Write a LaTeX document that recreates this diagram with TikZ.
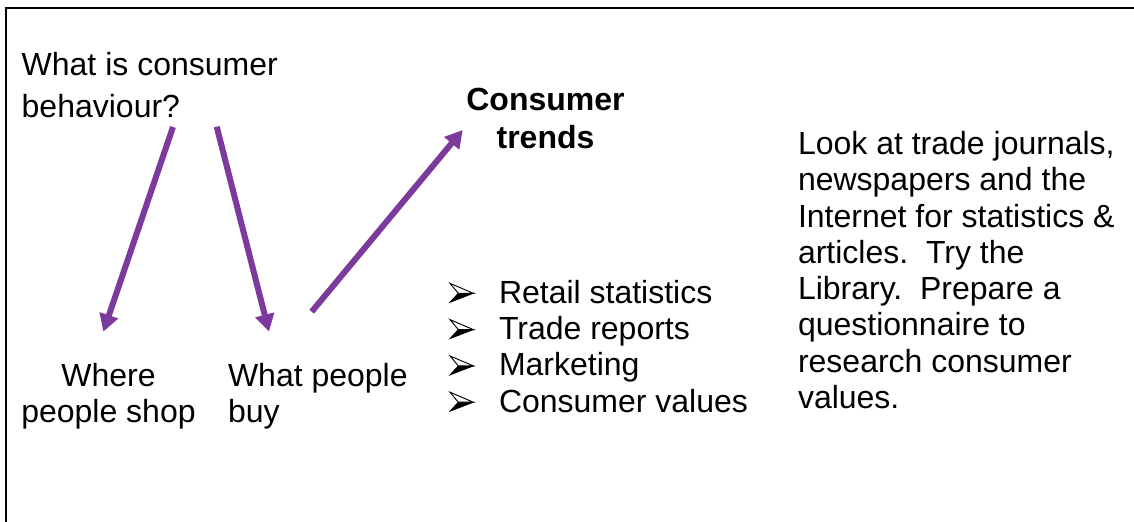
\documentclass[tikz,border=0pt]{standalone}
\usepackage{fontspec}
\setmainfont{Liberation Sans}
\usetikzlibrary{arrows.meta}
\definecolor{arrowpurple}{HTML}{7B3A9C}
\begin{document}
\begin{tikzpicture}[x=0.75pt,y=-0.75pt,
  txt/.style={font=\fontsize{24pt}{27.2pt}\selectfont, inner sep=0pt, outer sep=0pt},
  conn/.style={draw=arrowpurple, line width=4.5pt, -{Triangle[length=13pt,width=14pt]}},
  dart/.pic={
    \filldraw[black, line width=0.6pt] (0,-0.7) -- (23.3,-9.7) -- (8.3,-9.7) -- cycle;
    \filldraw[fill=white, draw=black, line width=0.7pt] (0,-19.7) -- (23.3,-9.7) -- (8.3,-9.7) -- cycle;
  }]
\useasboundingbox (0,0) rectangle (1134,521);
\clip (0,0) rectangle (1134,521);
\fill[white] (0,0) rectangle (1134,521);
\draw[line width=1.9pt] (6,8) rectangle (1160,560);

% anchor=base of a multi-line node is the baseline of its last line
\node[txt, align=left, anchor=base west] (q) at (21.7,117) {What is consumer\\[4.3pt]behaviour?};
\node[txt, align=center, anchor=base, font=\fontsize{24pt}{27.2pt}\selectfont\bfseries] (trends) at (545.5,148) {Consumer\\[1.2pt]trends\hspace{6.7pt}};
\node[txt, align=center, anchor=base] (where) at (108.5,422.3) {Where\\people shop};
\node[txt, align=left, anchor=base west] (what) at (228,422.3) {What people\\buy};
\node[txt, align=left, anchor=base west] (list) at (499,412) {Retail statistics\\Trade reports\\Marketing\\Consumer values};
\node[txt, align=left, anchor=base west] (advice) at (798,408.5) {Look at trade journals,\\newspapers and the\\Internet for statistics \&\\articles.\ \ Try the\\Library.\ \ Prepare a\\questionnaire to\\research consumer\\values.};

\foreach \k in {0,1,2,3} {
  \pic at (450,{303+36.3*\k}) {dart};
}

\coordinate (a1s) at (173,127);
\coordinate (a1e) at (103.3,331.7);
\coordinate (a2s) at (216.7,126.7);
\coordinate (a2e) at (269,331.7);
\coordinate (a3s) at (311.7,311.7);
\coordinate (a3e) at (462.7,130);
\draw[conn] (a1s) -- (a1e);
\draw[conn] (a2s) -- (a2e);
\draw[conn] (a3s) -- (a3e);
\end{tikzpicture}
\end{document}
